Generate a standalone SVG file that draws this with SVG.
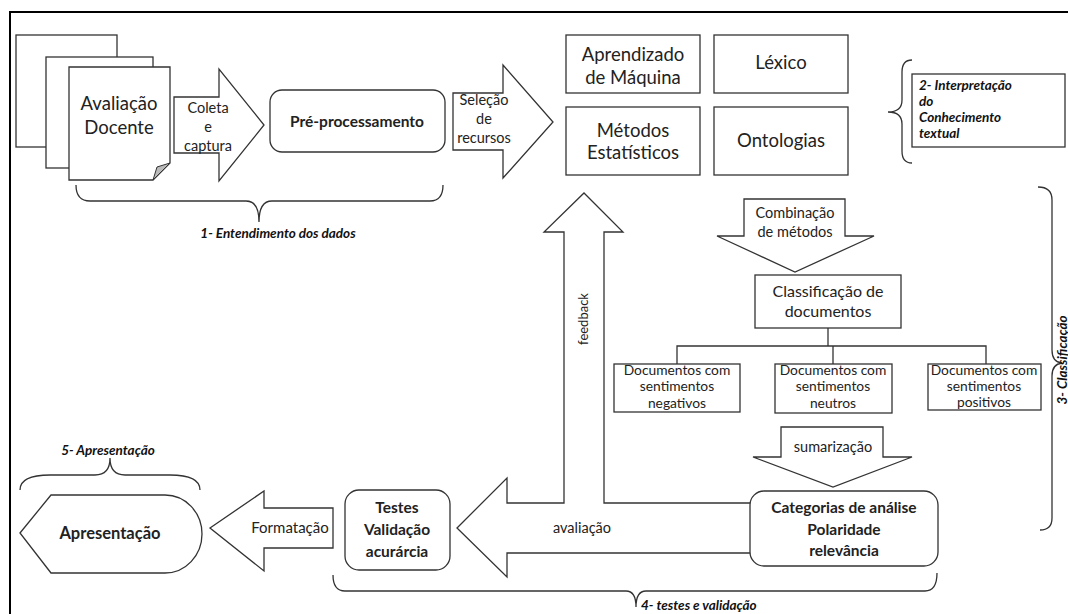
<svg xmlns="http://www.w3.org/2000/svg" width="1068" height="614" viewBox="0 0 1068 614">
<style>
.s{fill:#fff;stroke:#333;stroke-width:1.3}
.b{fill:none;stroke:#333;stroke-width:1.3}
.t{font-family:Lato,"Open Sans",sans-serif;fill:#222;text-anchor:middle}
.a{font-size:14.5px}
.d{font-size:13.8px}
.bd{font-weight:bold}
.lab{font-family:Lato,"Open Sans",sans-serif;font-weight:bold;font-style:italic;fill:#111;font-size:13.5px}
</style>
<rect width="1068" height="614" fill="#fff"/>
<path d="M10,614 V12 H1068" fill="none" stroke="#000" stroke-width="2"/>

<g id="avaliacao-docente">
<rect class="s" x="16" y="35" width="101" height="112"/>
<rect class="s" x="46" y="57" width="107" height="111"/>
<path class="s" d="M69,67 H170 V163 L153,180 H69 Z"/>
<path d="M170,163 L153,180 L157,167 Z" fill="#bbb" stroke="#333" stroke-width="1"/>
<text class="t" x="119" y="110" font-size="18.5">Avaliação</text>
<text class="t" x="119" y="134" font-size="18.5">Docente</text>
</g>

<g id="coleta">
<path class="s" d="M174,97 H219 V69 L264,125 L219,181 V153 H174 Z"/>
<text class="t a" x="208" y="113">Coleta</text>
<text class="t a" x="208" y="132">e</text>
<text class="t a" x="208" y="151">captura</text>
</g>

<g id="pre-processamento">
<rect class="s" x="270" y="90" width="175" height="62" rx="12"/>
<text class="t bd" x="357" y="127" font-size="15.5">Pré-processamento</text>
</g>

<g id="selecao">
<path class="s" d="M453,93 H503 V65 L553,122 L503,178 V150 H453 Z"/>
<text class="t a" x="484" y="105">Seleção</text>
<text class="t a" x="484" y="124">de</text>
<text class="t a" x="484" y="143">recursos</text>
</g>

<g id="aprendizado">
<rect class="s" x="566" y="35" width="134" height="58"/>
<text class="t" x="633" y="61" font-size="18.5">Aprendizado</text>
<text class="t" x="633" y="84" font-size="18.5">de Máquina</text>
</g>
<g id="lexico">
<rect class="s" x="714" y="35" width="134" height="58"/>
<text class="t" x="781" y="69" font-size="18.5">Léxico</text>
</g>
<g id="metodos">
<rect class="s" x="566" y="107" width="134" height="68"/>
<text class="t" x="633" y="137" font-size="18.5">Métodos</text>
<text class="t" x="633" y="159" font-size="18.5">Estatísticos</text>
</g>
<g id="ontologias">
<rect class="s" x="714" y="107" width="134" height="68"/>
<text class="t" x="781" y="147" font-size="18.5">Ontologias</text>
</g>

<g id="interpretacao">
<path class="b" d="M912,60 Q902,60 902,72 V100 Q902,112 888,112 Q902,112 902,124 V151 Q902,163 912,163"/>
<rect class="s" x="912" y="74" width="153" height="73"/>
<text class="lab" x="919" y="90" font-size="13">2- Interpretação</text>
<text class="lab" x="919" y="106" font-size="13">do</text>
<text class="lab" x="919" y="122" font-size="13">Conhecimento</text>
<text class="lab" x="919" y="138" font-size="13">textual</text>
</g>

<g id="entendimento">
<path class="b" d="M76,185 Q76,201 90,201 H246 Q259,201 259,222 Q259,201 272,201 H430 Q443,201 443,185"/>
<text class="lab" x="278" y="238" text-anchor="middle">1- Entendimento dos dados</text>
</g>

<g id="connectors">
<path class="s" d="M457,528 L507,478 V503 H564 V232 H544 L584,193 L623,232 H604 V503 H752 V553 H507 V577 Z"/>
<text class="t" x="588" y="319" font-size="13" transform="rotate(-90 588 319)">feedback</text>
<text class="t a" x="582" y="533">avaliação</text>
<path class="s" d="M744,199 H845 V236 H874 L795,272 L717,236 H744 Z"/>
<text class="t a" x="795" y="218">Combinação</text>
<text class="t a" x="795" y="237">de métodos</text>
<path class="b" d="M828,328 V346" stroke-width="2.5"/>
<path class="b" d="M677,364 V346 H986 V364 M833,346 V364"/>
<path class="s" d="M781,427 H883 V457 H912 L833,487 L753,457 H781 Z"/>
<text class="t a" x="833" y="452">sumarização</text>
<path class="s" d="M333,508 V548 H264 V571 L210,528 L264,491 V508 Z"/>
<text class="t" x="290" y="533" font-size="15">Formatação</text>
</g>

<g id="classificacao-documentos">
<rect class="s" x="755" y="275" width="146" height="53"/>
<text class="t" x="828" y="297" font-size="16">Classificação de</text>
<text class="t" x="828" y="317" font-size="16">documentos</text>
</g>

<g id="negativos">
<rect class="s" x="614" y="364" width="126" height="48"/>
<text class="t d" x="677" y="375">Documentos com</text>
<text class="t d" x="677" y="391">sentimentos</text>
<text class="t d" x="677" y="408">negativos</text>
</g>
<g id="neutros">
<rect class="s" x="775" y="364" width="117" height="49"/>
<text class="t d" x="833" y="375">Documentos com</text>
<text class="t d" x="833" y="391">sentimentos</text>
<text class="t d" x="833" y="408">neutros</text>
</g>
<g id="positivos">
<rect class="s" x="928" y="364" width="113" height="46"/>
<text class="t d" x="984" y="375">Documentos com</text>
<text class="t d" x="984" y="391">sentimentos</text>
<text class="t d" x="984" y="407">positivos</text>
</g>

<g id="classificacao-label">
<path class="b" d="M1038,187 Q1052,187 1052,200 V350 Q1052,362 1062,363 Q1052,364 1052,376 V518 Q1052,530 1040,530"/>
<text class="lab" x="1067" y="360" font-size="10.5" text-anchor="middle" transform="rotate(-90 1067 360)">3- Classificação</text>
</g>

<g id="categorias">
<rect class="s" x="750" y="491" width="188" height="75" rx="14"/>
<text class="t bd" x="844" y="513" font-size="15.5">Categorias de análise</text>
<text class="t bd" x="844" y="535" font-size="15.5">Polaridade</text>
<text class="t bd" x="844" y="556" font-size="15.5">relevância</text>
</g>

<g id="testes">
<rect class="s" x="345" y="490" width="105" height="80" rx="14"/>
<text class="t bd" x="397" y="513" font-size="15.5">Testes</text>
<text class="t bd" x="397" y="535" font-size="15.5">Validação</text>
<text class="t bd" x="397" y="557" font-size="15.5">acurárcia</text>
</g>

<g id="testes-label">
<path class="b" d="M333,575 Q333,591 345,591 H626 Q636,591 636,607 Q636,591 646,591 H925 Q937,591 937,573"/>
<text class="lab" x="641" y="610">4- testes e validação</text>
</g>

<g id="apresentacao">
<path class="s" d="M20,533 L51,495 H165 A37,39 0 0 1 165,573 H51 Z"/>
<text class="t bd" x="110" y="539" font-size="16.5">Apresentação</text>
</g>

<g id="apresentacao-label">
<path class="b" d="M20,490 Q20,475 50,475 H95 Q110,475 110,458 Q110,475 125,475 H170 Q200,475 200,490"/>
<text class="lab" x="108" y="455" text-anchor="middle">5- Apresentação</text>
</g>
</svg>
